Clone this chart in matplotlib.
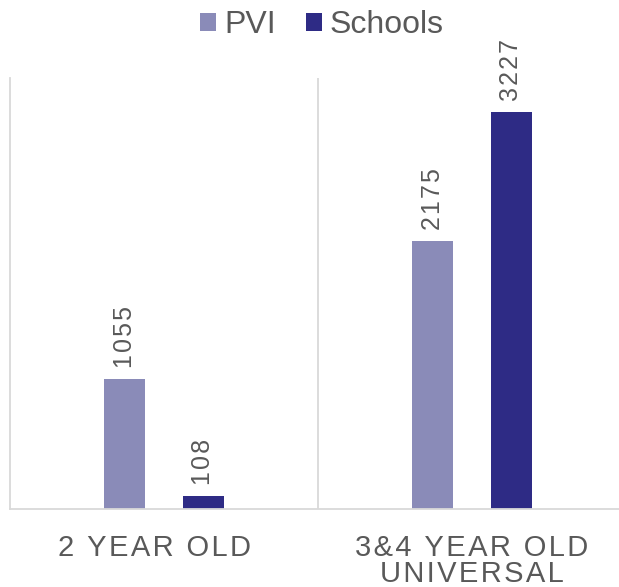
import numpy as np
import matplotlib.pyplot as plt

# Datos
categorias = ['2 YEAR OLD', '3&4 YEAR OLD\nUNIVERSAL']
pvi = [1055, 2175]
schools = [108, 3227]

col_pvi = '#8A8BB8'
col_sch = '#2E2B85'
gris = '#595959'
linea = '#D9D9D9'


def espaciar(s, sep='\u200a'):
    # tracking a mano, como en el original
    return '\n'.join(sep.join(linea_txt) for linea_txt in s.split('\n'))


plt.rcParams['font.family'] = ['Liberation Sans', 'DejaVu Sans']

fig = plt.figure(figsize=(6.19, 5.87), dpi=100)
ax = fig.add_axes([10/619, 1 - 509/587, 616/619, 431/587])

x = np.arange(len(categorias))
w = 0.133
off = 0.128
b1 = ax.bar(x - off, pvi, w, color=col_pvi, label='PVI')
b2 = ax.bar(x + off, schools, w, color=col_sch, label='Schools')

for barras in (b1, b2):
    for b in barras:
        ax.text(b.get_x() + b.get_width()/2, b.get_height() + 90,
                espaciar(str(int(b.get_height()))), rotation=90,
                ha='center', va='bottom', fontsize=18, color=gris)

ax.set_xlim(-0.5, 1.5)
ax.set_ylim(0, 3500)
ax.axvline(0.5, color=linea, lw=1.3)
for s in ['top', 'right']:
    ax.spines[s].set_visible(False)
for s in ['left', 'bottom']:
    ax.spines[s].set_color(linea)
    ax.spines[s].set_linewidth(1.3)
ax.set_yticks([])
ax.set_xticks([])

# etiquetas de categoria (la primera va un poco corrida a la izquierda)
corr = [-0.03, 0.0]
for i, c in enumerate(categorias):
    ax.text(x[i] + corr[i], -0.058, espaciar(c), transform=ax.get_xaxis_transform(),
            ha='center', va='top', fontsize=21, color=gris, linespacing=0.92)

fig.legend(loc='upper center', bbox_to_anchor=(0.52, 1.032), ncol=2, frameon=False,
           fontsize=23, labelcolor=gris, handlelength=0.5, handleheight=0.5,
           handletextpad=0.25, columnspacing=0.95)

fig.savefig('out.png', dpi=100)
